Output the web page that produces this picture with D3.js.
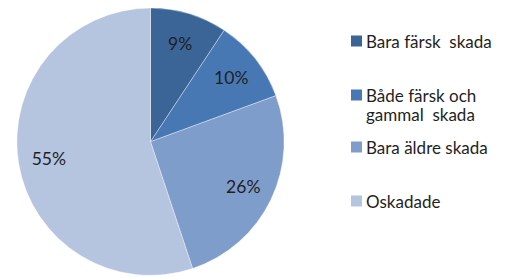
<!DOCTYPE html>
<html>
<head>
<meta charset="utf-8">
<script src="https://cdn.jsdelivr.net/npm/d3@7"></script>
<style>
  html, body { margin: 0; padding: 0; background: #fff; }
  #chart { width: 506px; height: 277px; }
  text { font-family: Lato, "Open Sans", sans-serif; fill: #1f1f1f; white-space: pre; }
</style>
</head>
<body>
<div id="chart"></div>
<script>
"use strict";

// chart data
const categories = [
  "Bara färsk skada",
  "Både färsk och gammal skada",
  "Bara äldre skada",
  "Oskadade",
];
const values = [9.3, 10.1, 25.5, 55.1];
const labels = ["9%", "10%", "26%", "55%"];
const legendLines = [
  ["Bara färsk  skada"],
  ["Både färsk och", "gammal  skada"],
  ["Bara äldre skada"],
  ["Oskadade"],
];
const colors = ["#3b6497", "#4878b4", "#7f9dca", "#b5c4df"];

function draw() {
  const w = 506;
  const h = 277;
  const cx = 150.5;
  const cy = 141.7;
  const r = 133.6;

  const svg = d3
    .select("#chart")
    .append("svg")
    .attr("width", w)
    .attr("height", h);

  const pie = d3.pie().sort(null).value((d) => d);
  const arcs = pie(values);

  const arc = d3.arc().innerRadius(0).outerRadius(r);
  const labelArc = d3.arc().innerRadius(103).outerRadius(103);

  const g = svg.append("g").attr("transform", `translate(${cx},${cy})`);

  g.selectAll("path")
    .data(arcs)
    .enter()
    .append("path")
    .attr("d", arc)
    .attr("fill", (d, i) => colors[i])
    .attr("stroke", "#ffffff")
    .attr("stroke-opacity", 0.5)
    .attr("stroke-width", 0.7);

  g.selectAll("text")
    .data(arcs)
    .enter()
    .append("text")
    .attr("x", (d) => labelArc.centroid(d)[0])
    .attr("y", (d) => labelArc.centroid(d)[1])
    .attr("text-anchor", "middle")
    .attr("dominant-baseline", "central")
    .attr("font-size", "17.5px")
    .text((d, i) => labels[i]);

  // legend
  const legendX = 351;
  const legendTop = [41, 95, 147, 201];
  const sq = 11;

  const legend = svg.append("g").attr("id", "legend");
  const items = legend
    .selectAll("g")
    .data(categories)
    .enter()
    .append("g")
    .attr("transform", (d, i) => `translate(${legendX},${legendTop[i]})`);

  items
    .append("rect")
    .attr("x", 0)
    .attr("y", -sq / 2)
    .attr("width", sq)
    .attr("height", sq)
    .attr("fill", (d, i) => colors[i]);

  items
    .append("text")
    .attr("x", sq + 4)
    .attr("y", 0)
    .attr("dominant-baseline", "central")
    .attr("font-size", "17px")
    .selectAll("tspan")
    .data((d, i) => legendLines[i])
    .enter()
    .append("tspan")
    .attr("x", sq + 4)
    .attr("dy", (d, j) => (j === 0 ? 0 : 19))
    .text((d) => d);
}

draw();
</script>
</body>
</html>
